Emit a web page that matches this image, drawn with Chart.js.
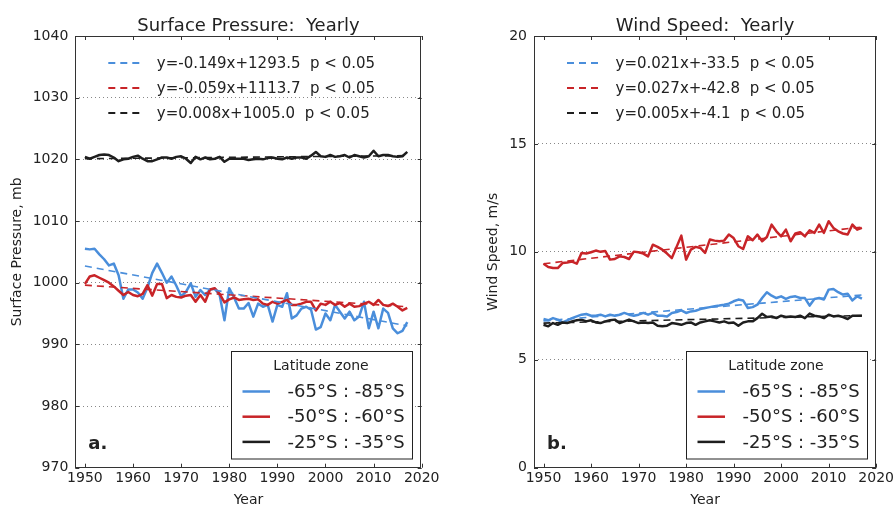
<!DOCTYPE html>
<html>
<head>
<meta charset="utf-8">
<script src="https://cdn.jsdelivr.net/npm/chart.js@4.4.1/dist/chart.umd.min.js"></script>
<style>
  html, body { margin: 0; padding: 0; background: #fff; width: 896px; height: 506px; overflow: hidden; }
  .panel { position: absolute; top: 0; width: 448px; height: 514px; }
</style>
</head>
<body>
<div class="panel" style="left:0"><canvas id="pressure" width="448" height="514"></canvas></div>
<div class="panel" style="left:448px"><canvas id="wind" width="448" height="514"></canvas></div>
<script>
// years of the yearly means
const years = [1950, 1951, 1952, 1953, 1954, 1955, 1956, 1957, 1958, 1959,
  1960, 1961, 1962, 1963, 1964, 1965, 1966, 1967, 1968, 1969,
  1970, 1971, 1972, 1973, 1974, 1975, 1976, 1977, 1978, 1979,
  1980, 1981, 1982, 1983, 1984, 1985, 1986, 1987, 1988, 1989,
  1990, 1991, 1992, 1993, 1994, 1995, 1996, 1997, 1998, 1999,
  2000, 2001, 2002, 2003, 2004, 2005, 2006, 2007, 2008, 2009,
  2010, 2011, 2012, 2013, 2014, 2015, 2016, 2017];
const yearTicks = [1950, 1960, 1970, 1980, 1990, 2000, 2010, 2020];

const zones = ['-65°S : -85°S', '-50°S : -60°S', '-25°S : -35°S'];

// surface pressure, mb
const pressureSouth = [1005.5, 1005.4, 1005.5, 1004.6, 1003.8, 1002.8, 1003.1, 1001.2, 997.4, 998.9,
  998.9, 998.4, 997.4, 999.2, 1001.6, 1003.1, 1001.6, 1000.0, 1001.0, 999.5,
  997.8, 998.5, 999.9, 997.7, 998.8, 998.0, 998.9, 999.0, 998.0, 993.9,
  999.1, 997.6, 995.8, 995.8, 996.7, 994.5, 996.6, 996.1, 996.4, 993.7,
  996.4, 996.1, 998.3, 994.2, 994.7, 995.8, 996.1, 995.6, 992.4, 992.8,
  995.0, 993.9, 996.4, 995.3, 994.2, 995.3, 993.9, 994.5, 996.9, 992.6,
  995.3, 992.6, 995.8, 995.1, 992.6, 991.8, 992.2, 993.6];
const pressureMid = [999.8, 1001.0, 1001.2, 1000.8, 1000.4, 1000.0, 999.4, 998.7, 998.0, 998.5,
  998.0, 997.8, 998.2, 999.6, 997.9, 999.8, 999.8, 997.5, 998.0, 997.7,
  997.6, 997.9, 998.0, 996.9, 998.0, 996.9, 998.9, 999.1, 998.2, 996.8,
  997.3, 997.6, 997.2, 997.3, 997.4, 997.2, 997.3, 996.6, 996.4, 996.9,
  996.6, 996.9, 997.2, 996.4, 996.4, 996.6, 996.9, 996.9, 995.5, 996.6,
  996.4, 996.9, 996.4, 996.7, 996.1, 996.6, 996.1, 996.2, 996.6, 996.9,
  996.4, 997.2, 996.4, 996.2, 996.6, 996.1, 995.5, 995.9];
const pressureNorth = [1020.4, 1020.1, 1020.4, 1020.7, 1020.8, 1020.7, 1020.3, 1019.7, 1020.0, 1020.1,
  1020.4, 1020.6, 1020.1, 1019.7, 1019.7, 1020.0, 1020.3, 1020.3, 1020.1, 1020.4,
  1020.5, 1020.1, 1019.4, 1020.4, 1020.0, 1020.3, 1020.0, 1020.1, 1020.4, 1019.6,
  1020.1, 1020.1, 1020.1, 1020.1, 1019.9, 1020.0, 1020.1, 1020.0, 1020.2, 1020.3,
  1020.1, 1020.0, 1020.3, 1020.1, 1020.3, 1020.3, 1020.1, 1020.6, 1021.2, 1020.5,
  1020.4, 1020.7, 1020.4, 1020.5, 1020.7, 1020.3, 1020.7, 1020.5, 1020.3, 1020.5,
  1021.4, 1020.5, 1020.7, 1020.7, 1020.5, 1020.4, 1020.5, 1021.2];

// wind speed, m/s
const windSouth = [6.89, 6.83, 6.93, 6.86, 6.73, 6.83, 6.93, 7.01, 7.09, 7.12,
  7.04, 7.04, 7.09, 7.01, 7.09, 7.04, 7.09, 7.17, 7.09, 7.04,
  7.09, 7.17, 7.09, 7.17, 7.04, 7.04, 7.01, 7.17, 7.21, 7.29,
  7.17, 7.24, 7.27, 7.35, 7.40, 7.44, 7.48, 7.51, 7.55, 7.60,
  7.71, 7.79, 7.75, 7.40, 7.44, 7.55, 7.86, 8.13, 7.97, 7.86,
  7.94, 7.82, 7.91, 7.94, 7.86, 7.86, 7.51, 7.82, 7.86, 7.79,
  8.25, 8.28, 8.13, 8.02, 8.06, 7.75, 7.94, 7.83];
const windMid = [9.45, 9.30, 9.25, 9.25, 9.48, 9.51, 9.55, 9.45, 9.95, 9.92,
  9.98, 10.06, 10.00, 10.04, 9.64, 9.67, 9.79, 9.76, 9.67, 10.01,
  9.98, 9.92, 9.79, 10.33, 10.23, 10.10, 9.92, 9.71, 10.23, 10.75,
  9.64, 10.10, 10.23, 10.18, 9.95, 10.57, 10.52, 10.49, 10.52, 10.80,
  10.64, 10.26, 10.13, 10.72, 10.54, 10.80, 10.49, 10.69, 11.26, 10.95,
  10.72, 11.03, 10.49, 10.85, 10.91, 10.72, 11.00, 10.88, 11.26, 10.88,
  11.42, 11.11, 10.95, 10.85, 10.80, 11.26, 11.03, 11.11];
const windNorth = [6.62, 6.55, 6.70, 6.62, 6.73, 6.70, 6.78, 6.83, 6.86, 6.78,
  6.83, 6.73, 6.70, 6.78, 6.83, 6.86, 6.70, 6.78, 6.86, 6.78,
  6.70, 6.73, 6.70, 6.73, 6.58, 6.55, 6.58, 6.70, 6.67, 6.62,
  6.70, 6.73, 6.62, 6.73, 6.78, 6.83, 6.78, 6.73, 6.78, 6.70,
  6.73, 6.58, 6.73, 6.78, 6.78, 6.93, 7.13, 6.98, 7.01, 6.93,
  7.04, 6.98, 7.01, 6.98, 7.04, 6.93, 7.14, 7.04, 7.01, 6.93,
  7.09, 7.01, 7.04, 6.98, 6.89, 7.04, 7.04, 7.04];

// fitted trend lines, end points
const trendYears = [1950, 2017];
const pressureTrendSouth = [1002.7, 993.0];
const pressureTrendMid = [999.6, 996.1];
const pressureTrendNorth = [1020.1, 1020.6];
const windTrendSouth = [6.80, 8.00];
const windTrendMid = [9.45, 11.15];
const windTrendNorth = [6.70, 7.05];

const pressureFits = ['y=-0.149x+1293.5  p < 0.05', 'y=-0.059x+1113.7  p < 0.05', 'y=0.008x+1005.0  p < 0.05'];
const windFits = ['y=0.021x+-33.5  p < 0.05', 'y=0.027x+-42.8  p < 0.05', 'y=0.005x+-4.1  p < 0.05'];

const colors = ['#4a8edb', '#c82428', '#1e1e1e'];
const FONT = '"DejaVu Sans", sans-serif';

function pts(xs, ys) {
  return xs.map((x, i) => ({x: x, y: ys[i]}));
}

// frame, inner ticks, title, panel letter and the two legends
const panelDecor = {
  id: 'panelDecor',
  afterDraw(chart, args, opts) {
    const {ctx, chartArea: a, scales: {x, y}} = chart;
    ctx.save();
    ctx.strokeStyle = '#333';
    ctx.lineWidth = 1;
    ctx.strokeRect(Math.round(a.left) + 0.5, Math.round(a.top) + 0.5,
      Math.round(a.right - a.left) - 1, Math.round(a.bottom - a.top) - 1);
    ctx.beginPath();
    x.ticks.forEach(t => {
      const px = Math.round(x.getPixelForValue(t.value)) + 0.5;
      ctx.moveTo(px, a.bottom); ctx.lineTo(px, a.bottom - 4);
      ctx.moveTo(px, a.top); ctx.lineTo(px, a.top + 4);
    });
    y.ticks.forEach(t => {
      const py = Math.round(y.getPixelForValue(t.value)) + 0.5;
      ctx.moveTo(a.left, py); ctx.lineTo(a.left + 4, py);
      ctx.moveTo(a.right, py); ctx.lineTo(a.right - 4, py);
    });
    ctx.stroke();

    ctx.fillStyle = '#222';
    ctx.textBaseline = 'middle';
    ctx.textAlign = 'center';
    ctx.font = '18px ' + FONT;
    ctx.fillText(opts.title, (a.left + a.right) / 2, 26);

    ctx.textAlign = 'left';
    ctx.font = 'bold 18px ' + FONT;
    ctx.fillText(opts.tag, a.left + 13, a.bottom - 23);

    const sets = chart.data.datasets;
    // equation legend
    ctx.font = '15px ' + FONT;
    sets.filter(d => d.fit).forEach((d, i) => {
      const ly = a.top + 27 + 25 * i;
      ctx.strokeStyle = d.borderColor;
      ctx.lineWidth = 2;
      ctx.setLineDash([7, 5]);
      ctx.beginPath();
      ctx.moveTo(a.left + 33, ly); ctx.lineTo(a.left + 68, ly);
      ctx.stroke();
      ctx.setLineDash([]);
      ctx.fillStyle = '#222';
      ctx.fillText(d.label, a.left + 81.5, ly + 1);
    });

    // latitude zone legend
    const bw = 181, bh = 107.5;
    const bx = Math.round(a.right - 9.5 - bw) + 0.5, by = Math.round(a.bottom - 9.5 - bh) + 0.5;
    ctx.fillStyle = '#fff';
    ctx.fillRect(bx, by, bw, bh);
    ctx.strokeStyle = '#222';
    ctx.lineWidth = 1;
    ctx.strokeRect(bx, by, bw, bh);
    ctx.fillStyle = '#222';
    ctx.textAlign = 'center';
    ctx.font = '14px ' + FONT;
    ctx.fillText('Latitude zone', bx + bw / 2 - 1, by + 15);
    ctx.textAlign = 'left';
    ctx.font = '18px ' + FONT;
    sets.filter(d => !d.fit).forEach((d, i) => {
      const ly = by + 40 + 25.2 * i;
      ctx.strokeStyle = d.borderColor;
      ctx.lineWidth = 2.5;
      ctx.beginPath();
      ctx.moveTo(bx + 11, ly); ctx.lineTo(bx + 38.5, ly);
      ctx.stroke();
      ctx.fillStyle = '#222';
      ctx.fillText(d.label, bx + 56, ly + 1);
    });
    ctx.restore();
  }
};

function makeChart(id, cfg) {
  const datasets = [];
  cfg.series.forEach((s, i) => {
    datasets.push({
      label: cfg.fits[i], fit: true, data: pts(trendYears, cfg.trends[i]),
      borderColor: colors[i], borderWidth: 1.6, borderDash: [7, 5], order: 0
    });
  });
  cfg.series.forEach((s, i) => {
    datasets.push({
      label: zones[i], data: pts(years, s),
      borderColor: colors[i], borderWidth: 2.5, order: 3 - i
    });
  });
  return new Chart(document.getElementById(id), {
    type: 'line',
    data: {datasets: datasets},
    plugins: [panelDecor],
    options: {
      responsive: false,
      animation: false,
      elements: {point: {radius: 0}, line: {tension: 0, borderJoinStyle: 'round'}},
      layout: {padding: {top: 36, right: cfg.padRight, left: 0, bottom: 0}},
      plugins: {
        legend: {display: false},
        tooltip: {enabled: false},
        panelDecor: {title: cfg.title, tag: cfg.tag}
      },
      scales: {
        x: {
          type: 'linear', min: 1948, max: 2020,
          afterBuildTicks: sc => { sc.ticks = yearTicks.map(v => ({value: v})); },
          afterFit: sc => { sc.height = 46.3; },
          ticks: {padding: 2, color: '#222', font: {family: FONT, size: 14}, callback: v => String(v)},
          grid: {display: false, drawTicks: false},
          border: {display: false},
          title: {display: true, text: 'Year', color: '#222', font: {family: FONT, size: 14}, padding: {top: 0, bottom: 5.6}}
        },
        y: {
          min: cfg.yMin, max: cfg.yMax,
          afterFit: sc => { sc.width = cfg.yWidth; },
          ticks: {stepSize: cfg.yStep, padding: 7, color: '#222', font: {family: FONT, size: 14}, callback: v => String(v)},
          grid: {color: '#888', lineWidth: 1, drawTicks: false},
          border: {display: false, dash: [1, 3]},
          title: {display: true, text: cfg.yTitle, color: '#222', font: {family: FONT, size: 14}, padding: {top: cfg.yTitlePad, bottom: 0}}
        }
      }
    }
  });
}

makeChart('pressure', {
  title: 'Surface Pressure:  Yearly', tag: 'a.', yTitle: 'Surface Pressure, mb',
  series: [pressureSouth, pressureMid, pressureNorth],
  trends: [pressureTrendSouth, pressureTrendMid, pressureTrendNorth],
  fits: pressureFits,
  yMin: 970, yMax: 1040, yStep: 10, yWidth: 75.3, yTitlePad: 8.6, padRight: 26.3
});

makeChart('wind', {
  title: 'Wind Speed:  Yearly', tag: 'b.', yTitle: 'Wind Speed, m/s',
  series: [windSouth, windMid, windNorth],
  trends: [windTrendSouth, windTrendMid, windTrendNorth],
  fits: windFits,
  yMin: 0, yMax: 20, yStep: 5, yWidth: 86, yTitlePad: 36.6, padRight: 16.3
});
</script>
</body>
</html>
